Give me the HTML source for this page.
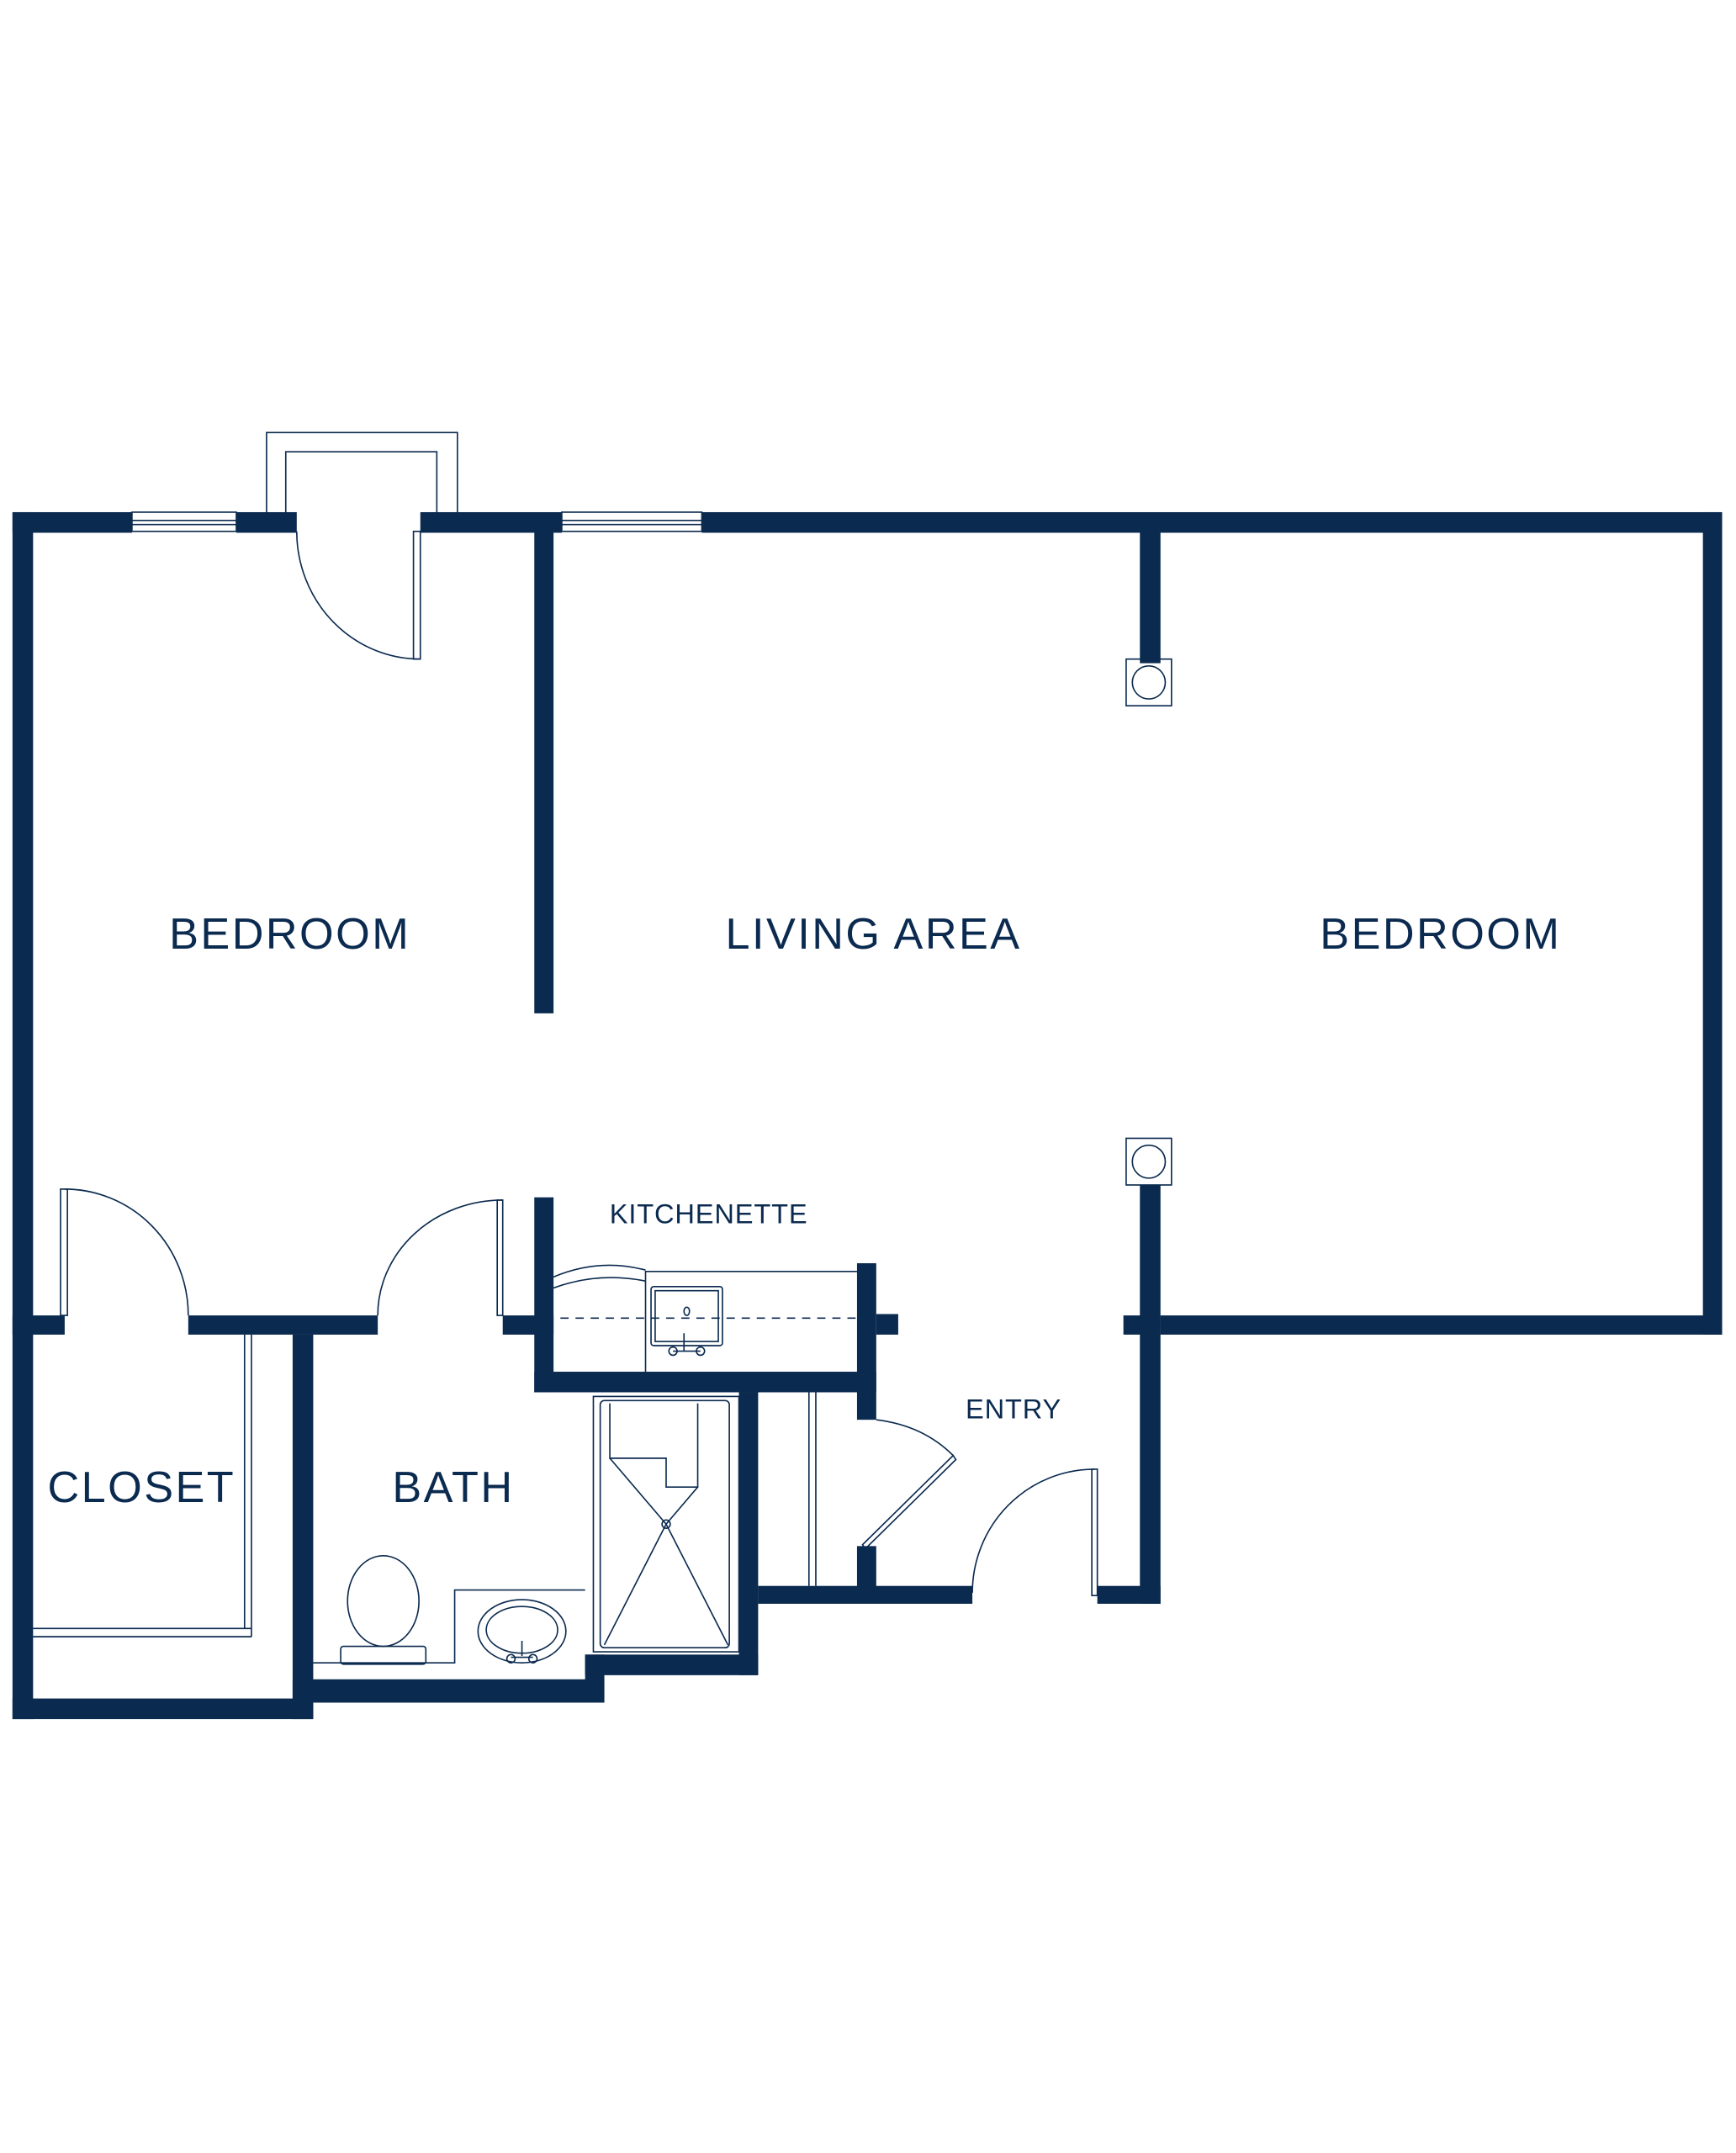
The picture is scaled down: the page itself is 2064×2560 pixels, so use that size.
<!DOCTYPE html>
<html><head><meta charset="utf-8"><style>
html,body{margin:0;padding:0;background:#fff;}
svg{display:block;}
text{font-family:"Liberation Sans",sans-serif;fill:#0b2a4f;}
</style></head><body>
<svg width="2064" height="2560" viewBox="0 0 1264 1568" xmlns="http://www.w3.org/2000/svg">
<rect width="1264" height="1568" fill="#fff"/>
<g fill="#0b2a4f">
<!-- top wall -->
<rect x="9" y="373" width="87" height="15"/>
<rect x="172" y="373" width="44" height="15"/>
<rect x="306" y="373" width="103" height="15"/>
<rect x="511" y="373" width="743" height="15"/>
<!-- outer left/right -->
<rect x="9" y="373" width="15" height="879"/>
<rect x="1240" y="373" width="14" height="599"/>
<!-- left partition -->
<rect x="389" y="387" width="14" height="351"/>
<!-- bedroom right vertical -->
<rect x="830" y="387" width="15" height="96"/>
<rect x="830" y="863" width="15" height="305"/>
<rect x="845" y="958" width="409" height="14"/>
<rect x="818" y="958" width="27" height="14"/>
<!-- lower left walls -->
<rect x="9" y="958" width="38" height="14"/>
<rect x="137" y="958" width="138" height="14"/>
<rect x="366" y="958" width="37" height="14"/>
<rect x="213" y="972" width="15" height="280"/>
<rect x="9" y="1237" width="219" height="15"/>
<rect x="213" y="1223" width="227" height="17"/>
<rect x="426" y="1205" width="14" height="35"/>
<rect x="426" y="1205" width="126" height="15"/>
<!-- kitchen -->
<rect x="389" y="872" width="14" height="142"/>
<rect x="389" y="999" width="249" height="15"/>
<rect x="624" y="920" width="14" height="114"/>
<rect x="638" y="957" width="16" height="15"/>
<rect x="538" y="1014" width="14" height="206"/>
<!-- entry -->
<rect x="624" y="1126" width="14" height="30"/>
<rect x="552" y="1155" width="156" height="13"/>
<rect x="799" y="1155" width="46" height="13"/>
</g>
<g fill="none" stroke="#0b2a4f" stroke-width="1">
<!-- windows -->
<rect x="96" y="373" width="76" height="14"/>
<line x1="96" y1="379" x2="172" y2="379"/><line x1="96" y1="382" x2="172" y2="382"/>
<rect x="409" y="373" width="102" height="14"/>
<line x1="409" y1="379" x2="511" y2="379"/><line x1="409" y1="382" x2="511" y2="382"/>
<!-- bay -->
<path d="M194 373V315H333V373M208 373V329H318V373"/>
<!-- top door -->
<rect x="301" y="387" width="5" height="93"/>
<path d="M216 387A90 93 0 0 0 306 480"/>
<!-- columns -->
<rect x="820" y="480" width="33" height="34"/><circle cx="836.5" cy="497" r="12"/>
<rect x="820" y="829" width="33" height="34"/><circle cx="836.5" cy="846" r="12"/>
<!-- closet door -->
<rect x="44" y="866" width="5" height="92"/>
<path d="M47 866A90 92 0 0 1 137 958"/>
<!-- bath door -->
<rect x="362" y="874" width="4" height="84"/>
<path d="M366 874A91 84 0 0 0 275 958"/>
<!-- closet rod -->
<path d="M178 972V1186M183 972V1192M24 1186H183M24 1192H183"/>
<!-- toilet -->
<ellipse cx="279" cy="1166" rx="26" ry="33"/>
<rect x="248" y="1199" width="62" height="13" rx="2"/>
<path d="M228 1211H331V1158H426"/>
<ellipse cx="380" cy="1188" rx="32" ry="23"/>
<ellipse cx="380" cy="1187" rx="26" ry="17"/>
<path d="M380 1195V1206M372 1207H388"/><circle cx="372" cy="1208" r="3"/><circle cx="388" cy="1208" r="3"/>
<!-- kitchen -->
<path d="M470 999V926H624"/>
<path d="M403 930Q436 916 470 925M403 938Q436 926 470 933"/>
<rect x="474" y="937" width="52" height="43" rx="2"/>
<rect x="477" y="940" width="46" height="37"/>
<ellipse cx="500" cy="955" rx="2" ry="3"/>
<path d="M498 971V984M490 984H510"/><circle cx="490" cy="984" r="3"/><circle cx="510" cy="984" r="3"/>
<line x1="408" y1="960" x2="624" y2="960" stroke-dasharray="6 5"/>
<!-- shower -->
<rect x="432" y="1017" width="106" height="186"/>
<rect x="437" y="1020" width="94" height="180" rx="3"/>
<path d="M444 1022V1062H485V1083H508V1022"/>
<path d="M444 1062L485 1110L508 1083M485 1110L440 1198M485 1110L530 1198"/>
<circle cx="485" cy="1110" r="3"/>
<!-- entry closet -->
<path d="M589 1014V1155M594 1014V1155"/>
<!-- entry inner door -->
<path d="M638 1034Q672 1038 694 1060"/>
<path d="M628 1125L694 1060L696 1063L630 1128Z"/>
<!-- entry main door -->
<rect x="795" y="1070" width="4" height="92"/>
<path d="M797 1070A89 90 0 0 0 708 1160"/>
</g>
<g text-anchor="middle">
<text x="211" y="691" font-size="32" letter-spacing="1.5">BEDROOM</text>
<text x="636" y="691" font-size="32" letter-spacing="1.5">LIVING AREA</text>
<text x="1049" y="691" font-size="32" letter-spacing="1.5">BEDROOM</text>
<text x="103" y="1094" font-size="32" letter-spacing="1.5">CLOSET</text>
<text x="330" y="1094" font-size="32" letter-spacing="1.5">BATH</text>
<text x="516" y="891" font-size="20" letter-spacing="0.5">KITCHENETTE</text>
<text x="738" y="1033" font-size="20" letter-spacing="0.5">ENTRY</text>
</g>
</svg>
</body></html>
